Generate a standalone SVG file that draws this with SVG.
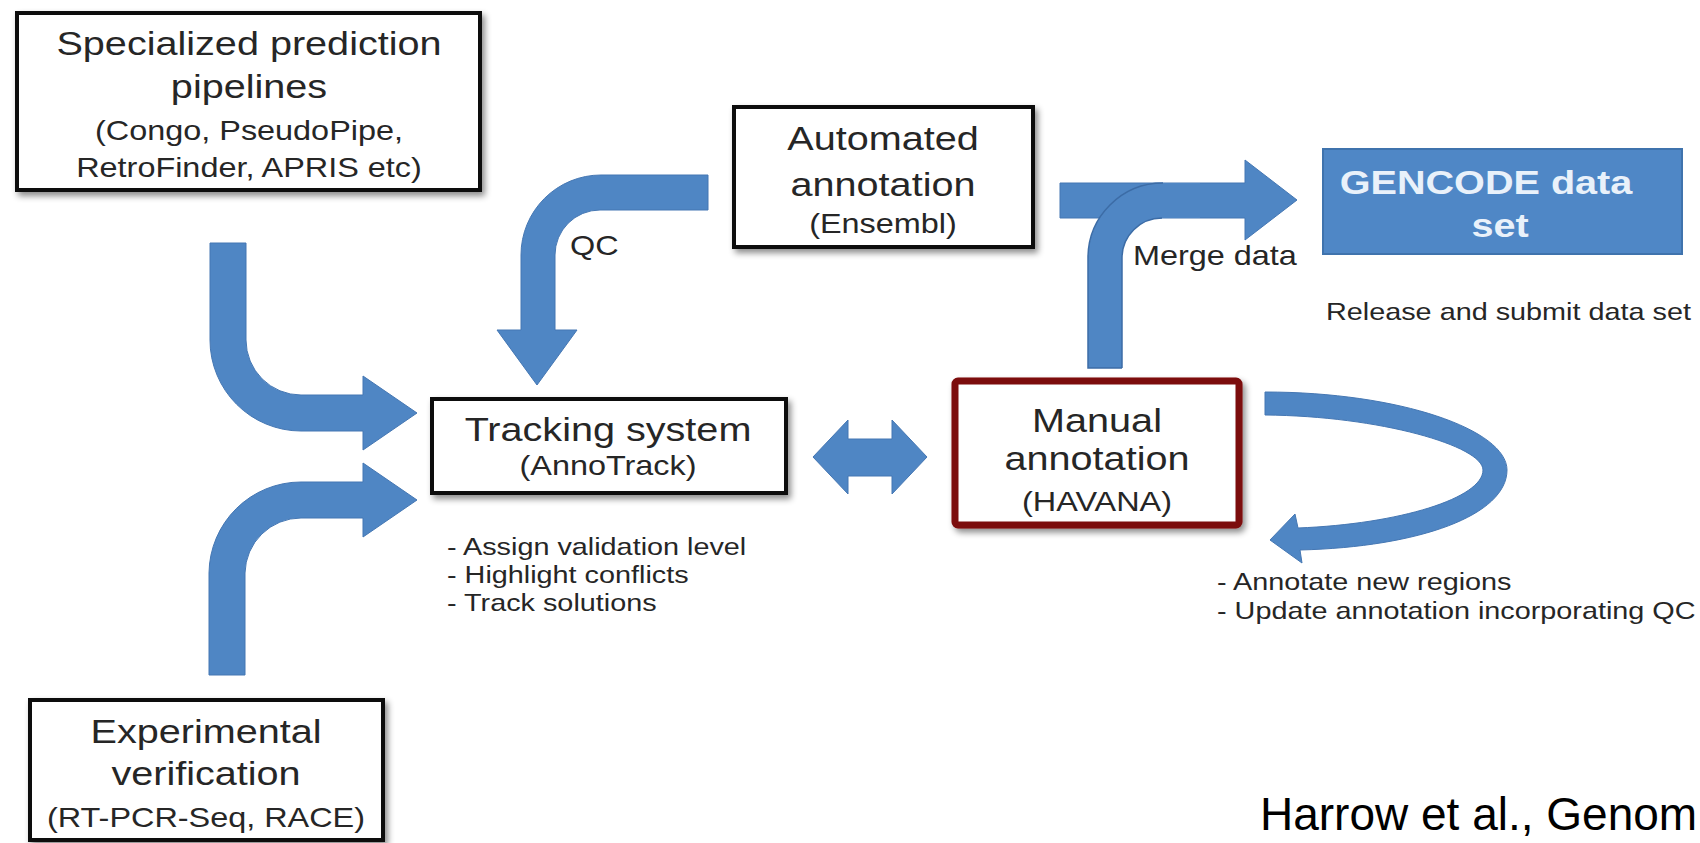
<svg xmlns="http://www.w3.org/2000/svg" width="1700" height="843" viewBox="0 0 1700 843">
<defs>
<filter id="sh" x="-10%" y="-10%" width="125%" height="130%">
<feDropShadow dx="3" dy="4" stdDeviation="3" flood-color="#000" flood-opacity="0.45"/>
</filter>
<style>
.box{fill:#fff;stroke:#111;stroke-width:4;filter:url(#sh)}
.red{fill:#fff;stroke:#7b0c0c;stroke-width:7;filter:url(#sh)}
.gen{fill:#4f87c6;stroke:#3f73ad;stroke-width:2}
.t{font-family:"Liberation Sans",Arial,Helvetica,sans-serif;fill:#262626}
.main{font-size:33px;text-anchor:middle}
.sub{font-size:27px;text-anchor:middle}
.lbl{font-size:27px}
.small{font-size:24px}
.gt{font-family:"Liberation Sans",Arial,Helvetica,sans-serif;font-weight:bold;font-size:33px;fill:#e9f1fa;text-anchor:middle}
.arrow{fill:#4f86c4;stroke:#4577b3;stroke-width:1}
.edge{fill:none;stroke:#3c6ca6;stroke-width:1.5}
.cite{font-family:"Liberation Sans",Arial,Helvetica,sans-serif;font-size:46px;fill:#000}
</style>
</defs>
<rect width="1700" height="843" fill="#fff"/>

<g id="connectors">
<path class="arrow" d="M210,243 L246,243 L246,340 A55,55 0 0 0 301,395 L363,395 L363,376 L417,413 L363,450 L363,431 L301,431 A91,91 0 0 1 210,340 Z"/>
<path class="arrow" d="M209,675 L245,675 L245,573 A56,56 0 0 1 301,518 L363,518 L363,537 L417,500 L363,463 L363,482 L301,482 A92,92 0 0 0 209,573 Z"/>
<path class="arrow" d="M708,175 L601,175 A80,80 0 0 0 521,255 L521,330 L497,330 L537,385 L577,330 L555,330 L555,255 A45,45 0 0 1 600,210 L708,210 Z"/>
<path class="arrow" d="M1060,183 L1245,183 L1245,160 L1297,200 L1245,240 L1245,218 L1060,218 Z"/>
<path fill="#4f86c4" d="M1088,368 L1088,258 A75,75 0 0 1 1163,183 L1200,183 L1200,218 L1162,218 A40,40 0 0 0 1122,258 L1122,368 Z"/>
<path class="edge" d="M1122,368 L1088,368 L1088,258 A75,75 0 0 1 1163,183 M1162,218 A40,40 0 0 0 1122,258 L1122,368"/>
<path class="arrow" d="M813,457 L848,420 L848,439 L892,439 L892,420 L927,457 L892,494 L892,476 L848,476 L848,494 Z"/>
<path class="arrow" d="M1265,392 C1400,392 1507,430 1507,470 C1507,515 1420,547 1300,550 L1302,563 L1270,540 L1295,514 L1298,528 C1400,524 1483,498 1483,470 C1483,446 1380,416 1265,415 Z"/>
<g transform="translate(570,0) scale(1.2,1)"><text class="t lbl" x="0" y="255">QC</text></g>
<g transform="translate(1133,0) scale(1.2,1)"><text class="t lbl" x="0" y="265">Merge data</text></g>
</g>

<g id="specialized">
<rect class="box" x="17" y="13" width="463" height="177"/>
<g transform="translate(249,0) scale(1.2,1)">
<text class="t main" x="0" y="55">Specialized prediction</text>
<text class="t main" x="0" y="98">pipelines</text>
<text class="t sub" x="0" y="140">(Congo, PseudoPipe,</text>
<text class="t sub" x="0" y="177">RetroFinder, APRIS etc)</text>
</g>
</g>

<g id="automated">
<rect class="box" x="734" y="107" width="299" height="140"/>
<g transform="translate(883,0) scale(1.2,1)">
<text class="t main" x="0" y="150">Automated</text>
<text class="t main" x="0" y="196">annotation</text>
<text class="t sub" x="0" y="233">(Ensembl)</text>
</g>
</g>

<g id="gencode">
<rect class="gen" x="1323" y="149" width="359" height="105"/>
<g transform="translate(1486,0) scale(1.2,1)"><text class="gt" x="0" y="194">GENCODE data</text></g>
<g transform="translate(1500,0) scale(1.2,1)"><text class="gt" x="0" y="237">set</text></g>
<g transform="translate(1326,0) scale(1.2,1)"><text class="t small" x="0" y="320">Release and submit data set</text></g>
</g>

<g id="tracking">
<rect class="box" x="432" y="399" width="354" height="94"/>
<g transform="translate(608,0) scale(1.2,1)">
<text class="t main" x="0" y="441">Tracking system</text>
<text class="t sub" x="0" y="475">(AnnoTrack)</text>
</g>
<g transform="translate(447,0) scale(1.2,1)">
<text class="t small" x="0" y="555">- Assign validation level</text>
<text class="t small" x="0" y="583">- Highlight conflicts</text>
<text class="t small" x="0" y="611">- Track solutions</text>
</g>
</g>

<g id="manual">
<rect class="red" x="955" y="381" width="284" height="144" rx="3"/>
<g transform="translate(1097,0) scale(1.2,1)">
<text class="t main" x="0" y="432">Manual</text>
<text class="t main" x="0" y="470">annotation</text>
<text class="t sub" x="0" y="511">(HAVANA)</text>
</g>
<g transform="translate(1217,0) scale(1.2,1)">
<text class="t small" x="0" y="590">- Annotate new regions</text>
<text class="t small" x="0" y="619">- Update annotation incorporating QC</text>
</g>
</g>

<g id="experimental">
<rect class="box" x="30" y="700" width="353" height="140"/>
<g transform="translate(206,0) scale(1.2,1)">
<text class="t main" x="0" y="743">Experimental</text>
<text class="t main" x="0" y="785">verification</text>
<text class="t sub" x="0" y="827">(RT-PCR-Seq, RACE)</text>
</g>
</g>

<g id="citation">
<text class="cite" x="1260" y="830">Harrow et al., Genom</text>
</g>
</svg>
